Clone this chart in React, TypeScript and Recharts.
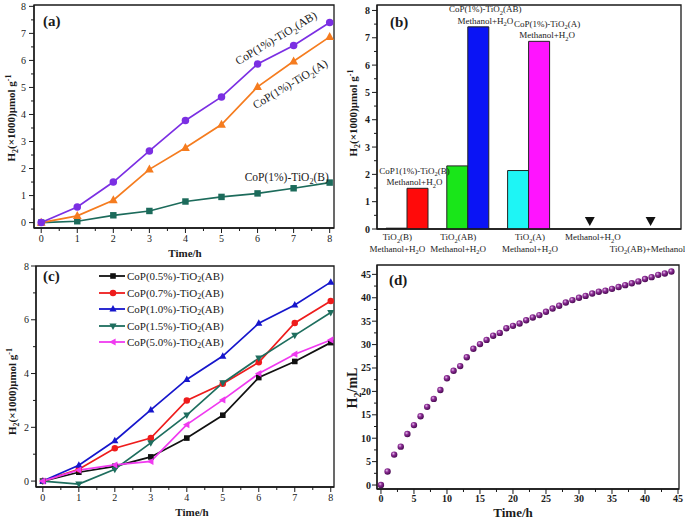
import React from 'react';
import {
  LineChart, Line, XAxis, YAxis, ReferenceArea, ReferenceDot, Label, LabelList,
  ComposedChart, Bar, Cell, ScatterChart, Scatter, Legend,
} from 'recharts';

const FONT = '"Liberation Serif", "Times New Roman", Times, serif';
const INK = '#1a1a1a';
const AXIS_LINE = { stroke: INK, strokeWidth: 1.3 };

// ---------------- data: panel (a) ----------------
const hours = [0, 1, 2, 3, 4, 5, 6, 7, 8];
const hourMajorTicks = [0, 1, 2, 3, 4, 5, 6, 7, 8];
const h2MajorTicksA = [0, 1, 2, 3, 4, 5, 6, 7, 8];
const copTiO2AB = [0, 0.58, 1.5, 2.65, 3.78, 4.65, 5.87, 6.55, 7.4];
const copTiO2A = [0, 0.25, 0.83, 1.97, 2.77, 3.63, 5.02, 5.97, 6.87];
const copTiO2B = [0, 0.05, 0.27, 0.43, 0.78, 0.95, 1.08, 1.27, 1.48];
const curveNamesA = ['CoP(1%)-TiO_{2}(AB)', 'CoP(1%)-TiO_{2}(A)', 'CoP(1%)-TiO_{2}(B)'];
const curveLabelAnchorX = [6.51, 6.9, 6.81];
const curveLabelAnchorY = [6.83, 5.13, 1.69];

// ---------------- data: panel (b) ----------------
const bCategories = ['TiO2(B)', 'TiO2(AB)', 'TiO2(A)', 'Methanol+H2O', 'TiO2(AB)+Methanol'];
const bTickLines = [
  ['TiO_{2}(B)', 'Methanol+H_{2}O'],
  ['TiO_{2}(AB)', 'Methanol+H_{2}O'],
  ['TiO_{2}(A)', 'Methanol+H_{2}O'],
  ['Methanol+H_{2}O', ''],
  ['', 'TiO_{2}(AB)+Methanol'],
];
const bBare = [0.03, 2.31, 2.14, null, null];
const bCoP = [1.49, 7.4, 6.87, null, null];
const bNoCatalyst = [null, null, null, 0.31, 0.31];
const bAnnotations = [
  ['CoP1(1%)-TiO_{2}(B)', 'Methanol+H_{2}O'],
  ['CoP(1%)-TiO_{2}(AB)', 'Methanol+H_{2}O'],
  ['CoP(1%)-TiO_{2}(A)', 'Methanol+H_{2}O'],
  null,
  null,
];
const h2MajorTicksB = [0, 1, 2, 3, 4, 5, 6, 7, 8];

// ---------------- data: panel (c) ----------------
const cNames = [
  'CoP(0.5%)-TiO_{2}(AB)',
  'CoP(0.7%)-TiO_{2}(AB)',
  'CoP(1.0%)-TiO_{2}(AB)',
  'CoP(1.5%)-TiO_{2}(AB)',
  'CoP(5.0%)-TiO_{2}(AB)',
];
const cop05 = [0, 0.33, 0.55, 0.9, 1.6, 2.45, 3.85, 4.45, 5.15];
const cop07 = [0, 0.44, 1.22, 1.6, 3.0, 3.62, 4.42, 5.88, 6.7];
const cop10 = [0, 0.59, 1.5, 2.65, 3.78, 4.65, 5.87, 6.55, 7.4];
const cop15 = [0, -0.11, 0.44, 1.42, 2.45, 3.65, 4.57, 5.42, 6.27];
const cop50 = [0, 0.41, 0.6, 0.73, 2.1, 3.02, 4.0, 4.72, 5.25];
const h2MajorTicksC = [0, 2, 4, 6, 8];

// ---------------- data: panel (d) ----------------
const hoursD = [0, 1, 2, 3, 4, 5, 6, 7, 8, 9, 10, 11, 12, 13, 14, 15, 16, 17, 18, 19, 20, 21, 22,
  23, 24, 25, 26, 27, 28, 29, 30, 31, 32, 33, 34, 35, 36, 37, 38, 39, 40, 41, 42, 43, 44];
const h2mL = [0, 2.9, 6.5, 8.2, 10.9, 12.8, 14.7, 16.7, 18.4, 20.3, 22.8, 24.4, 25.4, 27.3, 29.1,
  30.1, 31.0, 31.9, 32.5, 33.5, 34.0, 34.5, 35.2, 35.8, 36.3, 37.0, 37.7, 38.3, 39.0, 39.5, 40.0,
  40.4, 40.9, 41.3, 41.5, 41.9, 42.3, 42.7, 43.1, 43.5, 44.0, 44.4, 44.9, 45.2, 45.6];
const timeMajorTicksD = [0, 5, 10, 15, 20, 25, 30, 35, 40, 45];
const h2MajorTicksD = [0, 5, 10, 15, 20, 25, 30, 35, 40, 45];

// ---------------- styles ----------------
const aColors = { ab: '#7B2FE3', a: '#F57C1F', b: '#1C6B5B' };
const cColors = ['#111111', '#EE1C1C', '#1616CC', '#1E6E5E', '#F03AF0'];
const cShapes = ['square', 'circle', 'up', 'down', 'left'];
const bBareColors = ['#000000', '#19E619', '#1EF5F5'];
const bCoPColors = ['#FF0A0A', '#0A14F5', '#FF14FF'];
const bTickShift = [-10, -10, 1, 3, -3];
const bAnnotShift = [-3, 7, 8];

// ---------------- helpers ----------------
function withMinor(major: number[]): number[] {
  const out: number[] = [];
  major.forEach((m, i) => {
    out.push(m);
    if (i < major.length - 1) out.push((m + major[i + 1]) / 2);
  });
  return out;
}

function splitRich(s: string): string[] {
  return s.split(/(_\{[^}]*\}|\^\{[^}]*\})/).filter((p) => p.length > 0);
}

function rich(s: string, fs: number) {
  let shift = 0;
  return splitRich(s).map((p, i) => {
    let target = 0;
    let txt = p;
    let size = fs;
    if (p.startsWith('_{')) { target = fs * 0.28; txt = p.slice(2, -1); size = fs * 0.72; }
    else if (p.startsWith('^{')) { target = -fs * 0.38; txt = p.slice(2, -1); size = fs * 0.72; }
    const dy = target - shift;
    shift = target;
    return <tspan key={i} dy={dy} fontSize={size}>{txt}</tspan>;
  });
}

function richHtml(s: string) {
  return splitRich(s).map((p, i) => {
    if (p.startsWith('_{')) return <sub key={i} style={{ fontSize: '0.72em', verticalAlign: '-0.3em', lineHeight: 0 }}>{p.slice(2, -1)}</sub>;
    if (p.startsWith('^{')) return <sup key={i} style={{ fontSize: '0.72em', lineHeight: 0 }}>{p.slice(2, -1)}</sup>;
    return <span key={i}>{p}</span>;
  });
}

function Marker({ cx, cy, shape, color, size }: any) {
  if (cx == null || cy == null || Number.isNaN(cx) || Number.isNaN(cy)) return null;
  const s = size;
  switch (shape) {
    case 'circle':
      return <circle cx={cx} cy={cy} r={s / 2} fill={color} />;
    case 'square':
      return <rect x={cx - s * 0.43} y={cy - s * 0.43} width={s * 0.86} height={s * 0.86} fill={color} />;
    case 'up':
      return <polygon points={`${cx},${cy - s * 0.6} ${cx + s * 0.55},${cy + s * 0.4} ${cx - s * 0.55},${cy + s * 0.4}`} fill={color} />;
    case 'down':
      return <polygon points={`${cx},${cy + s * 0.6} ${cx + s * 0.55},${cy - s * 0.4} ${cx - s * 0.55},${cy - s * 0.4}`} fill={color} />;
    case 'left':
      return <polygon points={`${cx - s * 0.6},${cy} ${cx + s * 0.4},${cy - s * 0.55} ${cx + s * 0.4},${cy + s * 0.55}`} fill={color} />;
    default:
      return null;
  }
}

function isMajorTick(v: number, major: number) {
  return Math.abs(v / major - Math.round(v / major)) < 1e-6;
}

function xTick(o: { major: number; fs: number; bold?: boolean; gap: number }) {
  return (p: any) => {
    const v = Number(p.payload?.value);
    const maj = isMajorTick(v, o.major);
    return (
      <g>
        <line x1={p.x} x2={p.x} y1={p.y} y2={p.y + (maj ? 5 : 3)} stroke={INK} strokeWidth={1} />
        {maj ? (
          <text x={p.x} y={p.y + o.gap} textAnchor="middle" fontFamily={FONT} fontSize={o.fs}
            fontWeight={o.bold ? 700 : 400} fill={INK}>{String(v)}</text>
        ) : null}
      </g>
    );
  };
}

function yTick(o: { major: number; fs: number; bold?: boolean; gap: number }) {
  return (p: any) => {
    const v = Number(p.payload?.value);
    const maj = isMajorTick(v, o.major);
    return (
      <g>
        <line x1={p.x - (maj ? 5 : 3)} x2={p.x} y1={p.y} y2={p.y} stroke={INK} strokeWidth={1} />
        {maj ? (
          <text x={p.x - o.gap} y={p.y + o.fs * 0.35} textAnchor="end" fontFamily={FONT} fontSize={o.fs}
            fontWeight={o.bold ? 700 : 400} fill={INK}>{String(v)}</text>
        ) : null}
      </g>
    );
  };
}

function XTitle({ vb, text, fs, dx, dy }: any) {
  if (!vb) return null;
  return (
    <text x={vb.x + vb.width / 2 + dx} y={vb.y + dy} textAnchor="middle" fontFamily={FONT}
      fontSize={fs} fontWeight={700} fill={INK}>{rich(text, fs)}</text>
  );
}

function YTitle({ vb, text, fs, bx, dy }: any) {
  if (!vb) return null;
  const x = vb.x + bx;
  const y = vb.y + vb.height / 2 + dy;
  return (
    <text x={x} y={y} textAnchor="middle" transform={`rotate(-90, ${x}, ${y})`} fontFamily={FONT}
      fontSize={fs} fontWeight={700} fill={INK}>{rich(text, fs)}</text>
  );
}

function PanelTag({ vb, text, dx, dy }: any) {
  if (!vb) return null;
  return (
    <text x={vb.x + dx} y={vb.y + dy} fontFamily={FONT} fontSize={15} fontWeight={700} fill={INK}>{text}</text>
  );
}

function CurveText({ viewBox, text, angle, fs }: any) {
  if (!viewBox) return null;
  const cx = viewBox.x + (viewBox.width || 0) / 2;
  const cy = viewBox.y + (viewBox.height || 0) / 2;
  return (
    <text x={cx} y={cy + fs * 0.35} textAnchor="middle" transform={`rotate(${angle}, ${cx}, ${cy})`}
      fontFamily={FONT} fontSize={fs} fill={INK}>{rich(text, fs)}</text>
  );
}

// ---------------- panel (a) ----------------
const rowsA = hours.map((h, i) => ({ h, ab: copTiO2AB[i], a: copTiO2A[i], b: copTiO2B[i] }));
const curveAngles = [-31, -31, 0];

function PanelA() {
  return (
    <LineChart width={340} height={258} data={rowsA} margin={{ top: 5, right: 6, left: 0, bottom: 0 }}>
      <XAxis dataKey="h" type="number" domain={[-0.2, 8.12]} allowDataOverflow ticks={withMinor(hourMajorTicks)}
        interval={0} tickSize={0} tickMargin={0} tickLine={false} axisLine={AXIS_LINE} height={30}
        tick={xTick({ major: 1, fs: 10, gap: 14 })}>
        <Label content={(p: any) => <XTitle vb={p.viewBox} text="Time/h" fs={11} dx={1} dy={28.5} />} />
      </XAxis>
      <YAxis type="number" domain={[-0.2, 8.05]} allowDataOverflow ticks={withMinor(h2MajorTicksA)} interval={0}
        width={34} tickSize={0} tickMargin={0} tickLine={false} axisLine={AXIS_LINE}
        tick={yTick({ major: 1, fs: 10, gap: 8 })}>
        <Label content={(p: any) => <YTitle vb={p.viewBox} text="H_{2}(×1000)μmol g^{-1}" fs={11} bx={15} dy={1.5} />} />
      </YAxis>
      <ReferenceArea y1={-0.2} y2={8.05} ifOverflow="visible" fill="none" stroke={INK} strokeWidth={1.3}
        label={(p: any) => <PanelTag vb={p.viewBox} text="(a)" dx={9} dy={21} />} />
      <Line dataKey="b" type="linear" stroke={aColors.b} strokeWidth={1.7} isAnimationActive={false}
        dot={(p: any) => <Marker key={`b${p.index}`} cx={p.cx} cy={p.cy} shape="square" color={aColors.b} size={7.5} />} />
      <Line dataKey="a" type="linear" stroke={aColors.a} strokeWidth={1.7} isAnimationActive={false}
        dot={(p: any) => <Marker key={`a${p.index}`} cx={p.cx} cy={p.cy} shape="up" color={aColors.a} size={8} />} />
      <Line dataKey="ab" type="linear" stroke={aColors.ab} strokeWidth={1.7} isAnimationActive={false}
        dot={(p: any) => <Marker key={`ab${p.index}`} cx={p.cx} cy={p.cy} shape="circle" color={aColors.ab} size={7.5} />} />
      {curveNamesA.map((name, i) => (
        <ReferenceDot key={name} x={curveLabelAnchorX[i]} y={curveLabelAnchorY[i]} r={0} fill="none" stroke="none"
          ifOverflow="visible"
          label={(p: any) => <CurveText viewBox={p.viewBox} text={name} angle={curveAngles[i]} fs={11.5} />} />
      ))}
    </LineChart>
  );
}

// ---------------- panel (b) ----------------
const rowsB = bCategories.map((cat, i) => ({ cat, bare: bBare[i], cop: bCoP[i], none: bNoCatalyst[i] }));

function BXTick(p: any) {
  const i = bCategories.indexOf(p.payload?.value);
  if (i < 0) return null;
  const [l1, l2] = bTickLines[i];
  const x = p.x + bTickShift[i];
  return (
    <g>
      {l1 ? <text x={x} y={p.y + 11} textAnchor="middle" fontFamily={FONT} fontSize={9} fill={INK}>{rich(l1, 9)}</text> : null}
      {l2 ? <text x={x} y={p.y + 22.5} textAnchor="middle" fontFamily={FONT} fontSize={9} fill={INK}>{rich(l2, 9)}</text> : null}
    </g>
  );
}

function BarAnnot(p: any) {
  const i = p.index;
  const lines = bAnnotations[i];
  if (!lines || p.x == null) return null;
  const cx = Number(p.x) + Number(p.width) / 2 + bAnnotShift[i];
  const top = Number(p.y);
  return (
    <g>
      <text x={cx} y={top - 14.5} textAnchor="middle" fontFamily={FONT} fontSize={9} fill={INK}>{rich(lines[0], 9)}</text>
      <text x={cx} y={top - 3} textAnchor="middle" fontFamily={FONT} fontSize={9} fill={INK}>{rich(lines[1], 9)}</text>
    </g>
  );
}

function PanelB() {
  return (
    <ComposedChart width={345} height={258} data={rowsB} margin={{ top: 5, right: 4, left: 0, bottom: 0 }} barGap={0}>
      <XAxis dataKey="cat" type="category" interval={0} tickSize={0} tickMargin={0} tickLine={false}
        axisLine={AXIS_LINE} height={29} tick={BXTick} />
      <YAxis type="number" domain={[0, 8.2]} allowDataOverflow ticks={withMinor(h2MajorTicksB)} interval={0}
        width={37} tickSize={0} tickMargin={0} tickLine={false} axisLine={AXIS_LINE}
        tick={yTick({ major: 1, fs: 10, bold: true, gap: 7 })}>
        <Label content={(p: any) => <YTitle vb={p.viewBox} text="H_{2}(×1000)μmol g^{-1}" fs={11} bx={17} dy={-4} />} />
      </YAxis>
      <ReferenceArea y1={0} y2={8.2} ifOverflow="visible" fill="none" stroke={INK} strokeWidth={1.3}
        label={(p: any) => <PanelTag vb={p.viewBox} text="(b)" dx={13} dy={21.5} />} />
      <Bar dataKey="bare" barSize={21} stroke="#222" strokeWidth={1} isAnimationActive={false}>
        {rowsB.map((r, i) => <Cell key={i} fill={bBareColors[i] || '#000'} />)}
      </Bar>
      <Bar dataKey="cop" barSize={21} stroke="#222" strokeWidth={1} isAnimationActive={false}>
        {rowsB.map((r, i) => <Cell key={i} fill={bCoPColors[i] || '#000'} />)}
        <LabelList dataKey="cop" content={BarAnnot} />
      </Bar>
      <Line dataKey="none" stroke="none" isAnimationActive={false} legendType="none"
        dot={(p: any) => <Marker key={`n${p.index}`} cx={p.cx} cy={p.cy} shape="down" color="#111" size={9} />} />
    </ComposedChart>
  );
}

// ---------------- panel (c) ----------------
const cSeries = [cop05, cop07, cop10, cop15, cop50];
const rowsC = hours.map((h, i) => {
  const r: any = { h };
  cSeries.forEach((s, k) => { r[`s${k}`] = s[i]; });
  return r;
});

function LegendC() {
  return (
    <div style={{ fontFamily: FONT, fontSize: 11, color: INK }}>
      {cNames.map((name, k) => (
        <div key={name} style={{ display: 'flex', alignItems: 'center', height: 16.5 }}>
          <svg width={27} height={12} style={{ display: 'block' }}>
            <line x1={0} x2={26} y1={6} y2={6} stroke={cColors[k]} strokeWidth={1.8} />
            <Marker cx={14} cy={6} shape={cShapes[k]} color={cColors[k]} size={6.5} />
          </svg>
          <span style={{ marginLeft: 1, whiteSpace: 'nowrap', lineHeight: '12px' }}>{richHtml(name)}</span>
        </div>
      ))}
    </div>
  );
}

function PanelC() {
  return (
    <LineChart width={340} height={262} data={rowsC} margin={{ top: 8, right: 6, left: 0, bottom: 0 }}>
      <XAxis dataKey="h" type="number" domain={[-0.19, 8.09]} allowDataOverflow ticks={withMinor(hourMajorTicks)}
        interval={0} tickSize={0} tickMargin={0} tickLine={false} axisLine={AXIS_LINE} height={33}
        tick={xTick({ major: 1, fs: 10, gap: 14 })}>
        <Label content={(p: any) => <XTitle vb={p.viewBox} text="Time/h" fs={11} dx={7} dy={28.5} />} />
      </XAxis>
      <YAxis type="number" domain={[-0.22, 8]} allowDataOverflow ticks={withMinor(h2MajorTicksC)} interval={0}
        width={36} tickSize={0} tickMargin={0} tickLine={false} axisLine={AXIS_LINE}
        tick={yTick({ major: 2, fs: 10, gap: 7 })}>
        <Label content={(p: any) => <YTitle vb={p.viewBox} text="H_{2}(×1000)μmol g^{-1}" fs={11} bx={16} dy={15} />} />
      </YAxis>
      <ReferenceArea y1={-0.22} y2={8} ifOverflow="visible" fill="none" stroke={INK} strokeWidth={1.3}
        label={(p: any) => <PanelTag vb={p.viewBox} text="(c)" dx={7} dy={15} />} />
      {cSeries.map((s, k) => (
        <Line key={k} dataKey={`s${k}`} name={cNames[k]} type="linear" stroke={cColors[k]} strokeWidth={1.7}
          isAnimationActive={false}
          dot={(p: any) => <Marker key={`c${k}-${p.index}`} cx={p.cx} cy={p.cy} shape={cShapes[k]} color={cColors[k]} size={6.5} />} />
      ))}
      <Legend layout="vertical" align="center" verticalAlign="middle" content={() => <LegendC />}
        wrapperStyle={{ left: 99, top: 10, width: 140 }} />
    </LineChart>
  );
}

// ---------------- panel (d) ----------------
const rowsD = hoursD.map((t, i) => ({ t, v: h2mL[i] }));

function Sphere(p: any) {
  if (p.cx == null || p.cy == null) return null;
  return <circle cx={p.cx} cy={p.cy} r={3.2} fill="url(#sphereD)" />;
}

function PanelD() {
  return (
    <ScatterChart width={345} height={262} margin={{ top: 7, right: 6, left: 0, bottom: 0 }}>
      <defs>
        <radialGradient id="sphereD" cx="38%" cy="35%" r="65%">
          <stop offset="0%" stopColor="#E6C2EC" />
          <stop offset="40%" stopColor="#8E2E97" />
          <stop offset="100%" stopColor="#4A0A52" />
        </radialGradient>
      </defs>
      <XAxis dataKey="t" type="number" domain={[-0.6, 45.15]} allowDataOverflow ticks={withMinor(timeMajorTicksD)}
        interval={0} tickSize={0} tickMargin={0} tickLine={false} axisLine={AXIS_LINE} height={31}
        tick={xTick({ major: 5, fs: 10, bold: true, gap: 13 })}>
        <Label content={(p: any) => <XTitle vb={p.viewBox} text="Time/h" fs={13} dx={-15} dy={28} />} />
      </XAxis>
      <YAxis dataKey="v" type="number" domain={[-0.85, 47]} allowDataOverflow ticks={withMinor(h2MajorTicksD)}
        interval={0} width={37} tickSize={0} tickMargin={0} tickLine={false} axisLine={AXIS_LINE}
        tick={yTick({ major: 5, fs: 10, bold: true, gap: 6 })}>
        <Label content={(p: any) => <YTitle vb={p.viewBox} text="H_{2}/mL" fs={14} bx={17} dy={11} />} />
      </YAxis>
      <ReferenceArea y1={-0.85} y2={47} ifOverflow="visible" fill="none" stroke={INK} strokeWidth={1.3}
        label={(p: any) => <PanelTag vb={p.viewBox} text="(d)" dx={12} dy={20} />} />
      <Scatter data={rowsD} shape={Sphere} isAnimationActive={false} />
    </ScatterChart>
  );
}

export default function App() {
  return (
    <div style={{ position: 'absolute', left: 0, top: 0, width: 685, height: 520, background: '#fff', overflow: 'hidden' }}>
      <div style={{ position: 'absolute', left: 0, top: 0 }}><PanelA /></div>
      <div style={{ position: 'absolute', left: 340, top: 0 }}><PanelB /></div>
      <div style={{ position: 'absolute', left: 0, top: 258 }}><PanelC /></div>
      <div style={{ position: 'absolute', left: 340, top: 258 }}><PanelD /></div>
    </div>
  );
}
